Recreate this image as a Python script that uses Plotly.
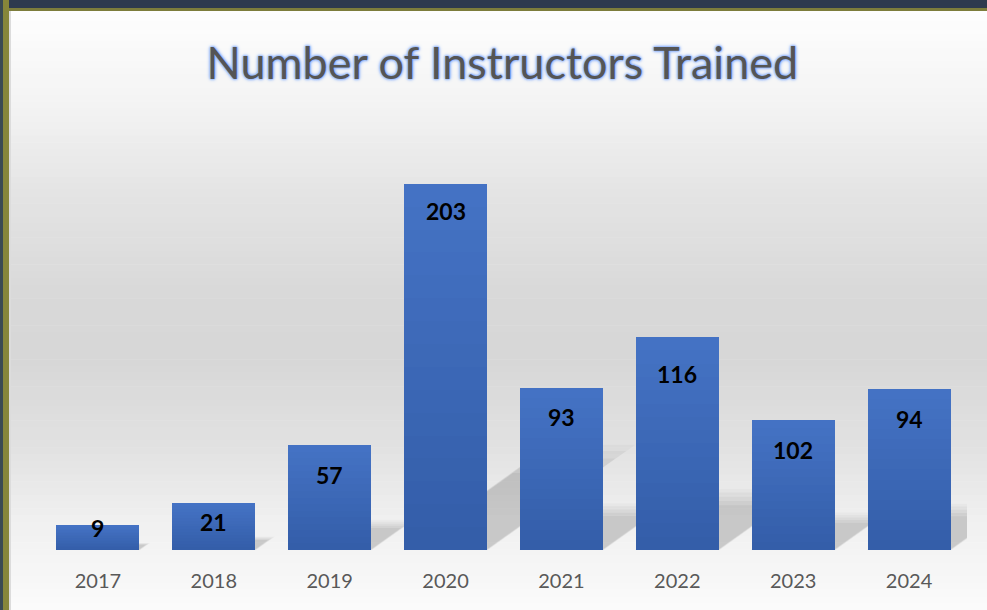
import plotly.graph_objects as go

# ---------------- data ----------------
years = [2017, 2018, 2019, 2020, 2021, 2022, 2023, 2024]
bar_heights = [13.9, 26.1, 58.2, 203, 89.9, 118.1, 72.1, 89.3]   # heights as drawn
bar_labels = ["9", "21", "57", "203", "93", "116", "102", "94"]   # printed labels
title_text = "Number of Instructors Trained"

# ---------------- styling ----------------
W, H = 987, 610
ML, MR, MT, MB = 40, 20, 117, 60
Y_MAX = 240
label_offsets = [3, 19, 30, 27, 29, 37, 30, 30]  # px below bar top (label centre)
N_SEG = 16
top_rgb = (69, 115, 197)
bot_rgb = (51, 93, 168)

pw = W - ML - MR
ph = H - MT - MB


def px_x(px):
    return (px - ML) / pw


def px_y(py):
    return 1 - (py - MT) / ph


shapes = []
# background vertical gradient (paper)
stops = [(0, 255), (100, 244), (200, 227), (300, 216), (360, 215), (450, 226), (520, 240), (610, 251)]
bands = 90
for i in range(bands):
    y0 = i * H / bands
    y1 = (i + 1) * H / bands
    ym = (y0 + y1) / 2
    for (a, ca), (b, cb) in zip(stops[:-1], stops[1:]):
        if a <= ym <= b:
            v = ca + (cb - ca) * (ym - a) / (b - a)
            break
    v = int(round(v))
    shapes.append(dict(type="rect", xref="paper", yref="paper", layer="below",
                       x0=px_x(0), x1=px_x(W), y0=px_y(y1 + 0.5), y1=px_y(y0),
                       fillcolor=f"rgb({v},{v},{v})", line=dict(width=0)))

# frame: top dark band + olive line, left dark + olive
frame = [
    (0, W, 0, 9, "#2e3a4e"),
    (0, W, 8, 11, "#7d7d3c"),
    (0, 3, 0, H, "#3a4a52"),
    (3, 9, 0, H, "#86863a"),
    (9, 11, 11, H, "#dcdcdc"),
]
for x0, x1, y0, y1, c in frame:
    shapes.append(dict(type="rect", xref="paper", yref="paper", layer="below",
                       x0=px_x(x0), x1=px_x(x1), y0=px_y(y1), y1=px_y(y0),
                       fillcolor=c, line=dict(width=0)))

# perspective shadows (drawn from bar heights), soft via layered translucent copies
half = 0.358
cat_px = pw / 8
unit_px = ph / Y_MAX
for yr, h in zip(years, bar_heights):
    hp = h * unit_px
    for grow, alpha in [(1.15, 0.025), (1.08, 0.03), (1.0, 0.035), (0.92, 0.04), (0.84, 0.045)]:
        dy = 0.25 * h * grow
        dx = 0.35 * hp * grow / cat_px
        e = (grow - 1) * 0.06
        path = (f"M {yr - half - e},0 L {yr + half + e},0 "
                f"L {yr + half + e + dx},{dy} L {yr - half - e + dx},{dy} Z")
        shapes.append(dict(type="path", xref="x", yref="y", layer="below",
                           path=path, fillcolor=f"rgba(0,0,0,{alpha})",
                           line=dict(width=0)))

fig = go.Figure()
for s in range(N_SEG):
    t = (s + 0.5) / N_SEG
    c = tuple(int(round(bot_rgb[k] + (top_rgb[k] - bot_rgb[k]) * t)) for k in range(3))
    fig.add_trace(go.Bar(
        x=years, y=[h / N_SEG for h in bar_heights],
        marker=dict(color=f"rgb{c}", line=dict(width=0)),
        hoverinfo="skip", showlegend=False,
    ))

annotations = []
for yr, h, lab, off in zip(years, bar_heights, bar_labels, label_offsets):
    annotations.append(dict(x=yr, y=h, xref="x", yref="y", text=f"<b>{lab}</b>",
                            showarrow=False, yanchor="middle", yshift=-off,
                            font=dict(family="Lato", size=23, color="#000000")))

fig.update_layout(
    width=W, height=H,
    margin=dict(l=ML, r=MR, t=MT, b=MB),
    barmode="stack", bargap=0.284,
    paper_bgcolor="#ffffff", plot_bgcolor="rgba(0,0,0,0)",
    title=dict(text=title_text, x=0.509, xanchor="center", xref="container",
               y=1 - 63 / H, yanchor="middle", yref="container",
               font=dict(family="Lato", size=45, color="#555555",
                         shadow="0px 0px 2px #8fb4ff, 0px 0px 2px #8fb4ff, 0px 0px 3px #8fb4ff, 0px 0px 4px #8fb4ff")),
    xaxis=dict(range=[2016.5, 2024.5], tickmode="array", tickvals=years,
               ticktext=[str(y) for y in years], showgrid=False, zeroline=False,
               showline=False, ticks="", ticklabelstandoff=17,
               tickfont=dict(family="Lato", size=20, color="#595959")),
    yaxis=dict(range=[0, Y_MAX], visible=False, showgrid=False, zeroline=False),
    shapes=shapes,
    annotations=annotations,
)

fig.write_html("out.html", config={"displayModeBar": False},
               post_script="document.body.style.margin='0';document.body.style.overflow='hidden';")
